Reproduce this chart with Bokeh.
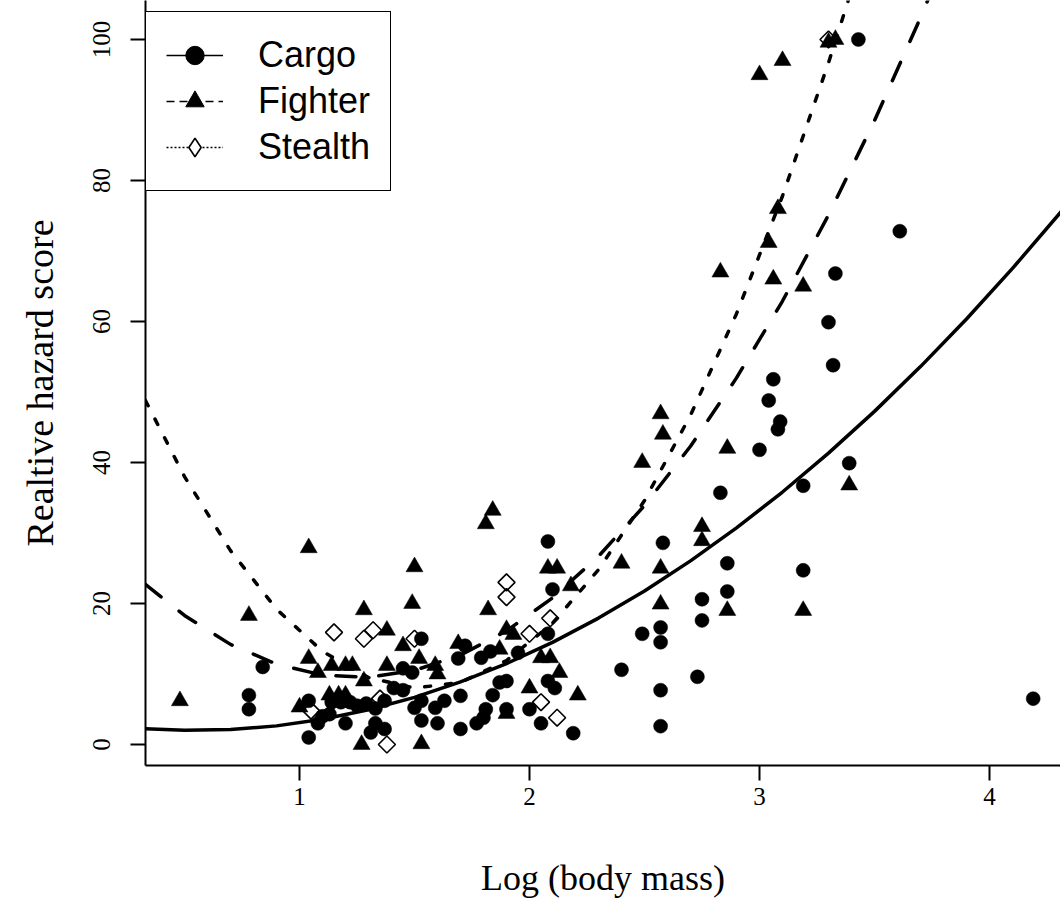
from bokeh.plotting import figure
from bokeh.models import Range1d, Legend, LegendItem, FixedTicker, ColumnDataSource
from bokeh.embed import file_html
from bokeh.resources import INLINE
import numpy as np

# ---------------- data ----------------
cargo_x = [0.78, 0.78, 0.84, 1.04, 1.04, 1.08, 1.10, 1.13, 1.14, 1.18, 1.22, 1.20, 1.25, 1.29,
           1.33, 1.37, 1.41, 1.45, 1.50, 1.53, 1.53, 1.60, 1.59, 1.63, 1.33, 1.31, 1.37, 1.45,
           1.49, 1.53, 1.72, 1.69, 1.70, 1.70, 1.77, 1.80, 1.81, 1.84, 1.87, 1.90, 1.90, 1.79,
           1.83, 1.95, 2.00, 2.05, 2.08, 2.11, 2.08, 2.10, 2.08, 2.19, 2.40, 2.49, 2.57, 2.57,
           2.57, 2.57, 2.58, 2.73, 2.75, 2.75, 2.86, 2.86, 2.83, 3.00, 3.04, 3.06, 3.08, 3.09,
           3.19, 3.19, 3.30, 3.32, 3.33, 3.39, 3.43, 3.61, 4.19]
cargo_y = [7.0, 5.0, 11.0, 6.2, 1.0, 3.0, 4.0, 4.3, 6.0, 6.0, 6.0, 3.0, 5.5, 5.8,
           5.1, 6.2, 8.0, 7.7, 5.2, 6.2, 3.4, 3.0, 5.2, 6.2, 3.0, 1.7, 2.2, 10.8,
           10.2, 15.0, 14.0, 12.2, 6.9, 2.2, 3.0, 3.8, 5.0, 7.0, 8.8, 9.0, 5.0, 12.3,
           13.2, 13.0, 5.0, 3.0, 9.0, 8.0, 15.7, 22.0, 28.8, 1.6, 10.6, 15.7, 16.6, 14.5,
           7.7, 2.6, 28.6, 9.6, 20.6, 17.6, 25.7, 21.7, 35.7, 41.8, 48.8, 51.8, 44.7, 45.8,
           36.7, 24.7, 59.9, 53.8, 66.8, 39.9, 100.0, 72.8, 6.5]

fighter_x = [0.48, 0.78, 1.00, 1.04, 1.04, 1.08, 1.13, 1.14, 1.17, 1.20, 1.20, 1.23, 1.27, 1.28,
             1.28, 1.38, 1.38, 1.45, 1.49, 1.50, 1.52, 1.53, 1.59, 1.60, 1.69, 1.81, 1.82, 1.84,
             1.87, 1.90, 1.90, 1.93, 2.00, 2.05, 2.08, 2.09, 2.12, 2.13, 2.18, 2.21, 2.40, 2.49,
             2.57, 2.58, 2.57, 2.57, 2.75, 2.75, 2.83, 2.86, 2.86, 3.00, 3.04, 3.06, 3.08, 3.10,
             3.19, 3.19, 3.30, 3.33, 3.39]
fighter_y = [6.2, 18.3, 5.3, 27.9, 12.2, 10.2, 7.0, 11.2, 7.0, 7.0, 11.2, 11.2, 0.0, 19.1,
             9.0, 16.2, 11.2, 14.0, 20.0, 25.2, 12.2, 0.1, 11.2, 10.0, 14.3, 31.3, 19.1, 33.2,
             13.5, 16.3, 4.4, 15.6, 8.0, 12.3, 25.0, 12.3, 25.0, 10.2, 22.5, 7.0, 25.7, 40.0,
             46.9, 44.0, 25.0, 19.9, 30.9, 28.9, 67.0, 42.0, 19.0, 95.0, 71.2, 66.0, 76.0, 97.0,
             65.0, 19.0, 99.6, 100.0, 36.8]

stealth_x = [1.15, 1.28, 1.32, 1.50, 1.05, 1.38, 1.35, 1.90, 1.90, 2.00, 2.09, 2.05, 2.12, 3.30]
stealth_y = [15.9, 15.0, 16.2, 15.0, 4.8, 0.0, 6.5, 23.0, 20.9, 15.7, 17.9, 6.0, 3.8, 100.0]

# fitted curves
curve_x = [0.33, 0.5, 0.7, 0.9, 1.1, 1.3, 1.5, 1.7, 1.9, 2.1, 2.3, 2.5, 2.7, 2.9, 3.1, 3.3,
           3.5, 3.7, 3.9, 4.1, 4.32]
cargo_fit = [2.25, 2.01, 2.12, 2.64, 3.57, 4.93, 6.69, 8.88, 11.48, 14.49, 17.93, 21.77, 26.04,
             30.72, 35.81, 41.33, 47.25, 53.6, 60.36, 67.53, 75.9]
fighter_fit_x = [0.33, 0.5, 0.7, 0.9, 1.1, 1.3, 1.5, 1.7, 1.9, 2.1, 2.3, 2.5, 2.7, 2.9, 3.1, 3.3,
                 3.5, 3.7, 3.8]
fighter_fit = [22.7, 18.3, 14.2, 11.4, 9.85, 9.54, 10.5, 12.7, 16.1, 20.8, 26.7, 33.9, 42.3, 52.0,
               62.9, 75.1, 88.5, 103.1, 110.9]
stealth_fit_x = [0.33, 0.5, 0.7, 0.9, 1.1, 1.3, 1.5, 1.7, 1.9, 2.1, 2.3, 2.5, 2.7, 2.9, 3.1, 3.3,
                 3.4]
stealth_fit = [48.8, 38.0, 27.5, 19.2, 13.2, 9.5, 8.0, 8.8, 11.9, 17.2, 24.8, 34.6, 46.7, 61.1,
               77.8, 96.7, 107.0]

x_ticks = [1, 2, 3, 4]
y_ticks = [0, 20, 40, 60, 80, 100]
groups = ["Cargo", "Fighter", "Stealth"]

SERIF = "Liberation Serif"
SANS = "Liberation Sans"

p = figure(width=1060, height=904,
           x_range=Range1d(0.3304, 4.3087), y_range=Range1d(-2.98, 105.53),
           output_backend="svg", toolbar_location=None,
           min_border_left=145, min_border_right=0, min_border_top=0, min_border_bottom=139,
           background_fill_color="white", border_fill_color="white")
p.outline_line_color = None
p.xgrid.visible = False
p.ygrid.visible = False

for ax in (p.xaxis[0], p.yaxis[0]):
    ax.axis_line_color = "black"
    ax.axis_line_width = 2
    ax.major_tick_line_color = "black"
    ax.major_tick_line_width = 2
    ax.major_tick_in = 0
    ax.major_tick_out = 15
    ax.minor_tick_line_color = None
    ax.major_label_text_font = SERIF
    ax.major_label_text_font_size = "25px"
    ax.major_label_text_color = "black"
    ax.axis_label_text_font = SERIF
    ax.axis_label_text_font_style = "normal"
    ax.axis_label_text_color = "black"

p.xaxis.axis_label_text_font_size = "36px"
p.yaxis.axis_label_text_font_size = "38px"
p.xaxis.ticker = FixedTicker(ticks=x_ticks)
p.yaxis.ticker = FixedTicker(ticks=y_ticks)
p.yaxis.major_label_orientation = "vertical"
p.xaxis.major_label_standoff = 7
p.yaxis.major_label_standoff = 20
p.xaxis.axis_label = "Log (body mass)"
p.yaxis.axis_label = "Realtive hazard score"
p.xaxis.axis_label_standoff = 50
p.yaxis.axis_label_standoff = 30

# points
p.scatter(stealth_x, stealth_y, marker="square", angle=np.pi / 4, size=12,
          fill_alpha=0, line_color="black", line_width=1.6)
p.scatter(fighter_x, fighter_y, marker="triangle", size=17, fill_color="black",
          line_color="black", line_width=0.5)
p.scatter(cargo_x, cargo_y, marker="circle", size=14, fill_color="black",
          line_color="black", line_width=0.5)

# fitted curves
p.line(curve_x, cargo_fit, line_color="black", line_width=3.5, line_cap="round")
p.line(fighter_fit_x, fighter_fit, line_color="black", line_width=3.5, line_cap="round",
       line_dash="20 23")
p.line(stealth_fit_x, stealth_fit, line_color="black", line_width=3.5, line_cap="round",
       line_dash="6 15")

# legend-only renderers (thin lines like the reference key), placed off-canvas
def off_line():
    return ColumnDataSource(data=dict(x=[-100.0, -99.0], y=[-100.0, -99.0]))

def off_pt():
    return ColumnDataSource(data=dict(x=[-100.0], y=[-100.0]))

lc = p.line("x", "y", source=off_line(), line_color="black", line_width=1.5)
mc = p.scatter("x", "y", source=off_pt(), marker="circle", fill_color="black", line_color="black")
lf = p.line("x", "y", source=off_line(), line_color="black", line_width=1.5, line_dash="8 5")
mf = p.scatter("x", "y", source=off_pt(), marker="triangle", fill_color="black", line_color="black")
ls = p.line("x", "y", source=off_line(), line_color="black", line_width=1.5, line_dash="2 2")
ms = p.scatter("x", "y", source=off_pt(), marker="diamond",
               fill_color="white", line_color="black", line_width=1.6)

legend = Legend(items=[LegendItem(label=groups[0], renderers=[lc, mc]),
                       LegendItem(label=groups[1], renderers=[lf, mf]),
                       LegendItem(label=groups[2], renderers=[ls, ms])],
                location=(0, 574), margin=0, padding=20, spacing=0,
                glyph_width=57, glyph_height=46, label_height=46, label_standoff=35,
                label_text_font=SANS, label_text_font_size="36px", label_text_color="black",
                border_line_color="black", border_line_width=1.8, border_line_alpha=1,
                background_fill_color="white", background_fill_alpha=1)
p.add_layout(legend)

open("out.html", "w").write(file_html(p, INLINE))
